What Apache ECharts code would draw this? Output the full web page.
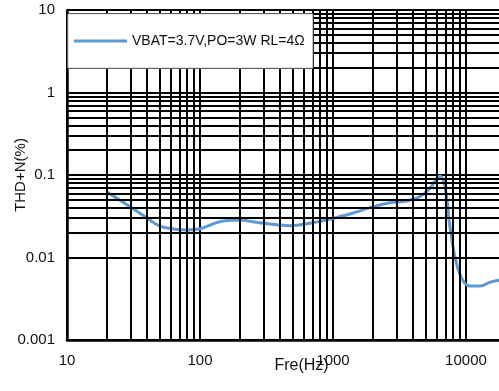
<!DOCTYPE html>
<html>
<head>
<meta charset="utf-8">
<script src="https://cdn.jsdelivr.net/npm/echarts@6/dist/echarts.min.js"></script>
<style>
  html, body { margin: 0; padding: 0; background: #fff; }
  #chart { width: 499px; height: 391px; }
</style>
</head>
<body>
<div id="chart"></div>
<script>
// THD+N versus frequency
const seriesName = 'VBAT=3.7V,PO=3W RL=4Ω';
const freqHz = [20, 30, 40, 50, 63, 80, 100, 125, 150, 195, 280, 390, 475, 670, 950, 1340, 1900, 2680, 3580, 4500, 5360, 6380, 6950, 7580, 8270, 9270, 10700, 12700, 15100, 17700, 20000];
const thdPct = [0.062, 0.041, 0.030, 0.024, 0.0222, 0.0216, 0.0223, 0.0255, 0.0277, 0.0285, 0.0264, 0.0248, 0.0243, 0.026, 0.0293, 0.0337, 0.0402, 0.0462, 0.0484, 0.0546, 0.069, 0.097, 0.072, 0.0236, 0.0102, 0.0056, 0.0045, 0.0045, 0.005, 0.0053, 0.0055];

// axis ranges and minor grid positions (2..9 within each decade)
const xMin = 10, xMax = 20000;
const yMin = 0.001, yMax = 10;
const minorSteps = [2, 3, 4, 5, 6, 7, 8, 9];
const xDecades = [10, 100, 1000];
const yDecades = [0.001, 0.01, 0.1, 1];

const xMinor = [];
xDecades.forEach(d => minorSteps.forEach(m => xMinor.push(d * m)));
xMinor.push(20000);
const yMinor = [];
yDecades.forEach(d => minorSteps.forEach(m => yMinor.push(+(d * m).toPrecision(3))));

const font = '"Liberation Sans", Arial, sans-serif';
const gridLine = { color: '#000', width: 2, type: 'solid' };
const plainNumber = v => String(+(+v).toPrecision(3));

const chart = echarts.init(document.getElementById('chart'), null, { renderer: 'canvas' });
chart.setOption({
  animation: false,
  backgroundColor: '#fff',
  grid: { left: 67, top: 10, right: -7, bottom: 51, containLabel: false, outerBoundsMode: 'none' },
  legend: {
    data: [{ name: seriesName, icon: 'rect' }],
    left: 68, top: 14, z: 20,
    padding: [20, 8, 20, 6],
    itemWidth: 53, itemHeight: 3,
    backgroundColor: '#fff',
    borderColor: '#c8c8c8', borderWidth: 1,
    textStyle: { fontFamily: font, fontSize: 14, color: '#111' }
  },
  xAxis: {
    type: 'log', logBase: 10, min: xMin, max: xMax,
    name: 'Fre(Hz)', nameLocation: 'middle', nameGap: 18, nameMoveOverlap: false,
    nameTextStyle: { fontFamily: font, fontSize: 16, color: '#111', padding: [0, 0, 0, 30] },
    axisLine: { show: true, lineStyle: { color: '#000', width: 2.5 } },
    axisTick: { show: false },
    axisLabel: { fontFamily: font, fontSize: 15, color: '#111', margin: 13, showMaxLabel: false, formatter: plainNumber },
    splitLine: { show: true, lineStyle: gridLine }
  },
  yAxis: {
    type: 'log', logBase: 10, min: yMin, max: yMax,
    name: 'THD+N(%)', nameLocation: 'middle', nameGap: 39, nameRotate: 90, nameMoveOverlap: false,
    nameTextStyle: { fontFamily: font, fontSize: 15, color: '#111' },
    axisLine: { show: true, lineStyle: { color: '#000', width: 2.5 } },
    axisTick: { show: false },
    axisLabel: { fontFamily: font, fontSize: 15, color: '#111', margin: 12, formatter: plainNumber },
    splitLine: { show: true, lineStyle: gridLine }
  },
  series: [
    {
      // minor grid lines, drawn beneath the curve
      type: 'line', data: [], z: 1, silent: true,
      markLine: {
        silent: true, symbol: 'none', animation: false,
        label: { show: false },
        lineStyle: gridLine,
        data: xMinor.map(v => ({ xAxis: v })).concat(yMinor.map(v => ({ yAxis: v })))
      }
    },
    {
      name: seriesName,
      type: 'line', z: 3,
      data: freqHz.map((f, i) => [f, thdPct[i]]),
      smooth: 0.4,
      showSymbol: false, symbol: 'none',
      lineStyle: { color: '#5b9bd5', width: 3 },
      itemStyle: { color: '#5b9bd5' }
    }
  ]
});
</script>
</body>
</html>
